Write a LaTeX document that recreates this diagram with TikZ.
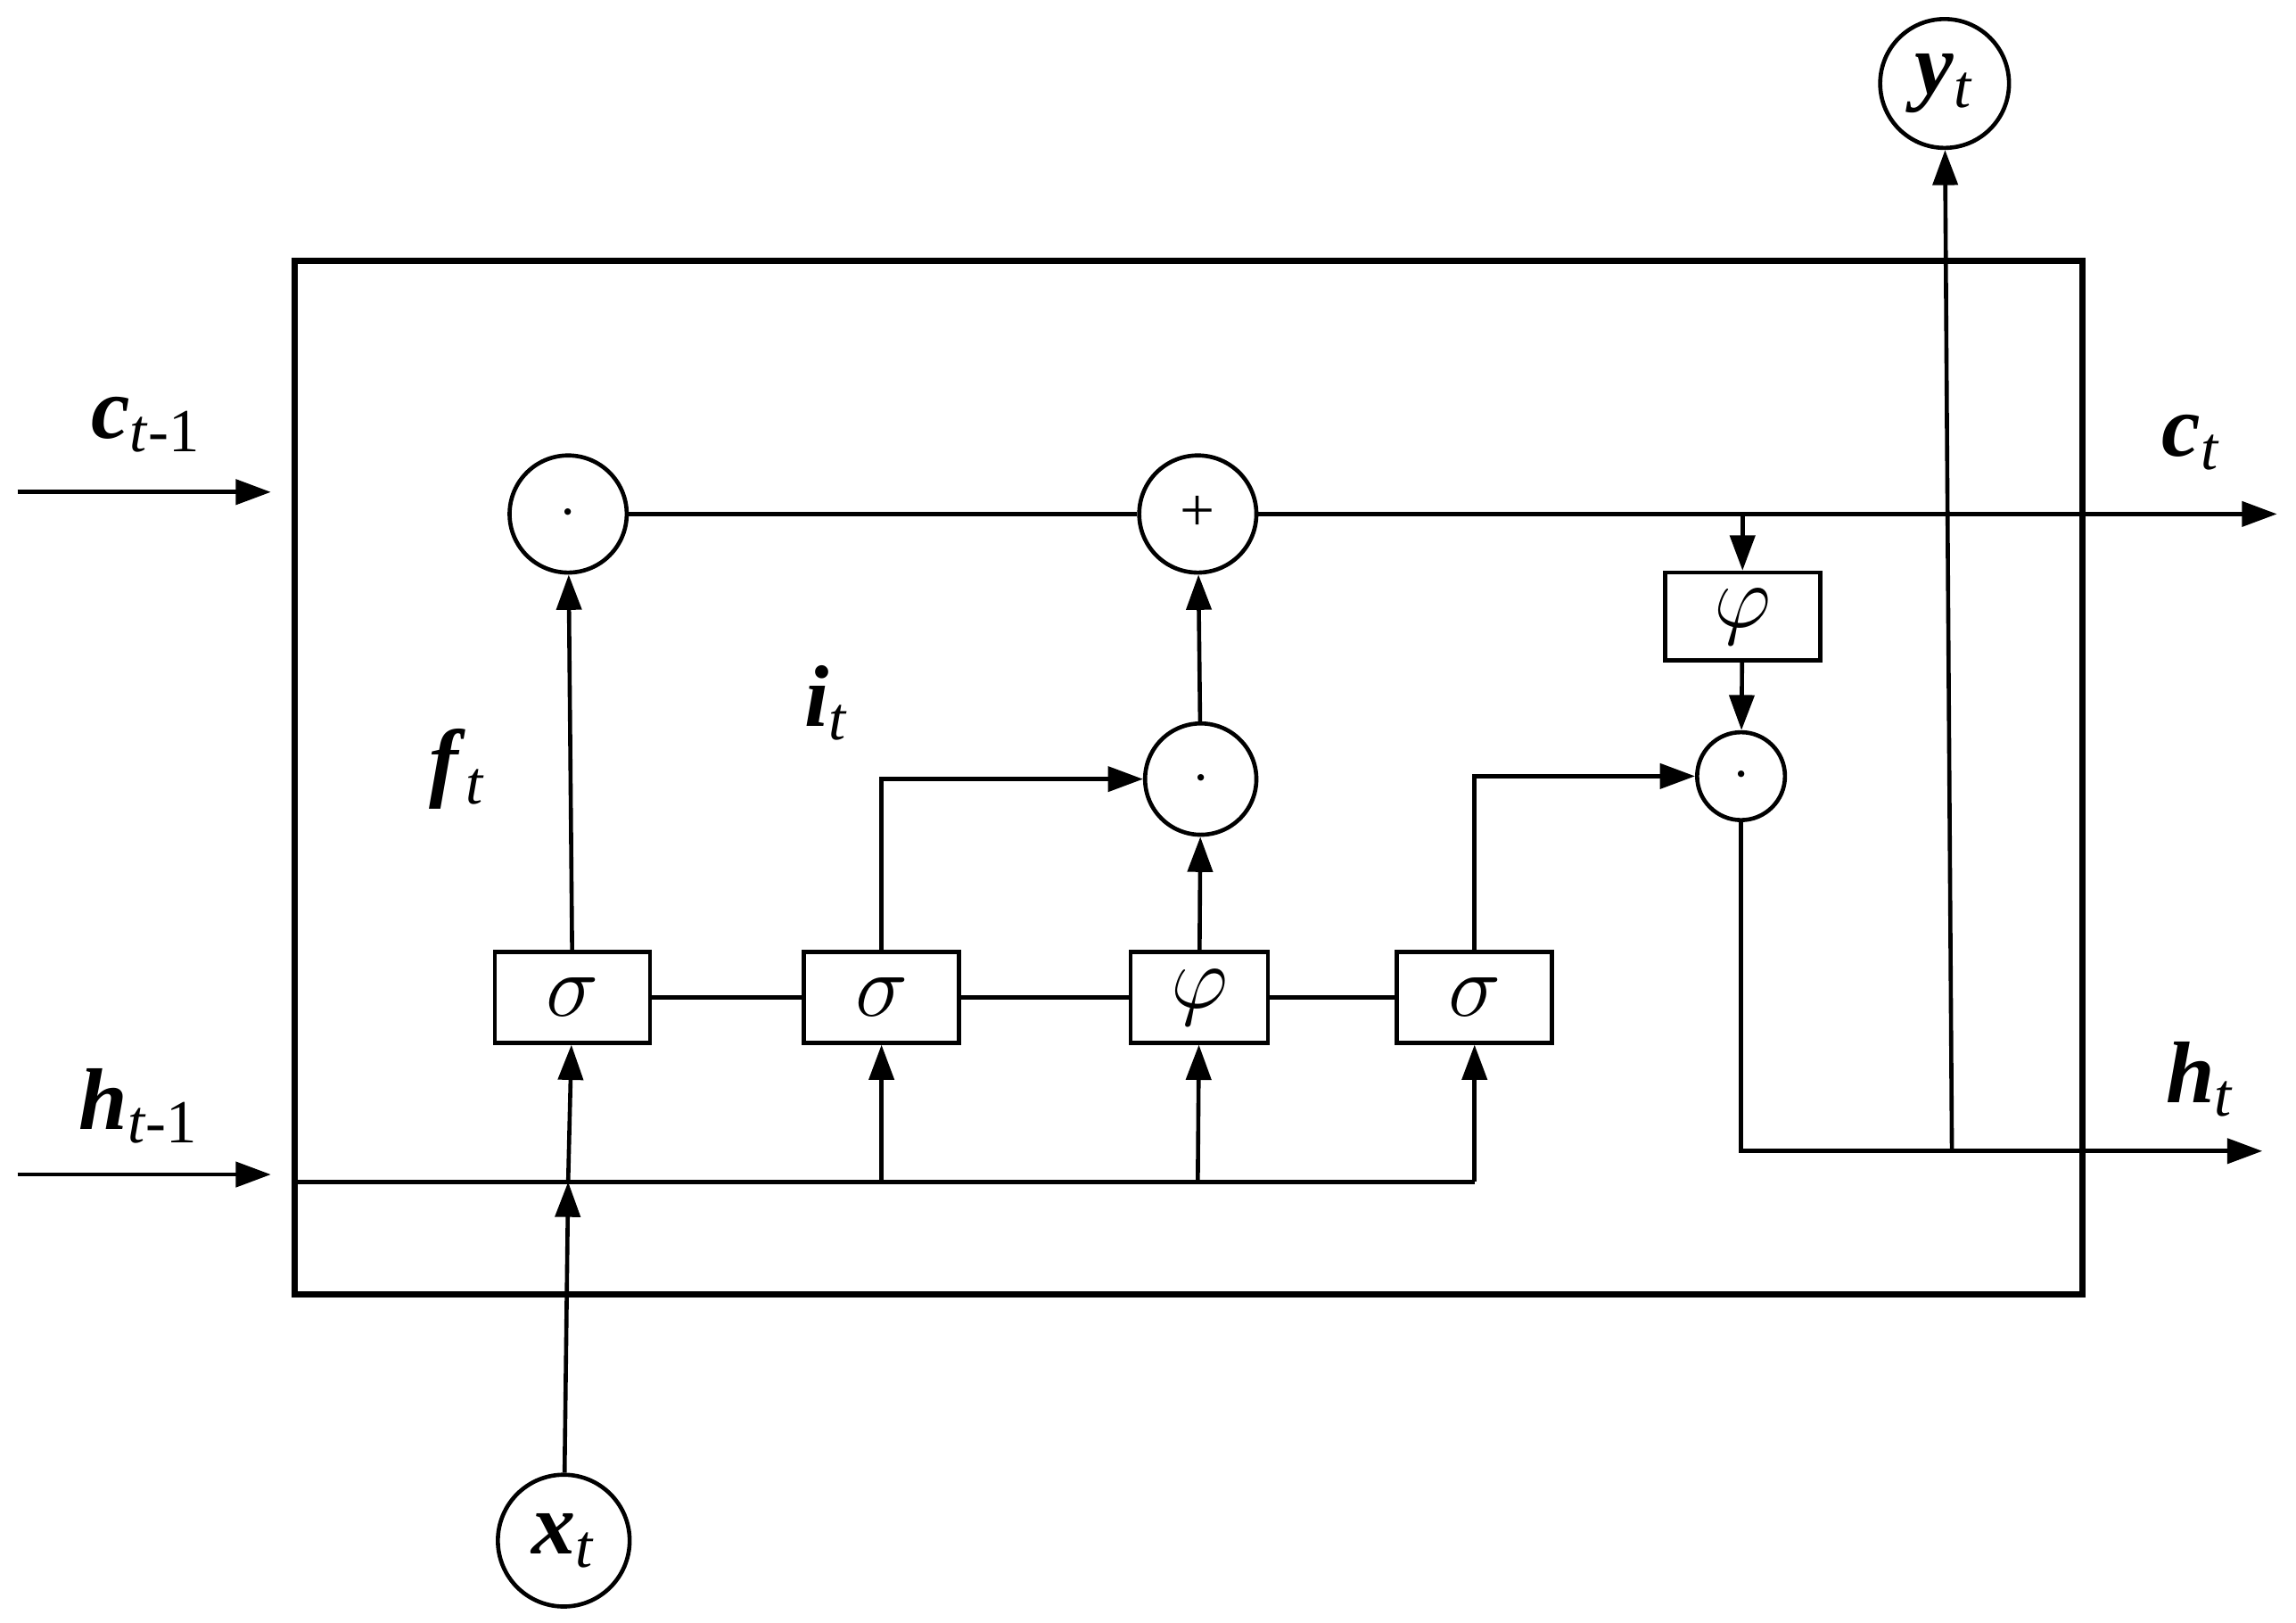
\documentclass[tikz,border=0pt]{standalone}
\usepackage{fontspec}
\setmainfont{Liberation Serif}
\usetikzlibrary{positioning, calc, arrows.meta}
\newcommand{\vb}[1]{\textbf{\textit{#1}}}
\begin{document}
\begin{tikzpicture}[
    >={Triangle[length=0.24cm, width=0.17cm]},
    every edge/.style={draw, thick},
    op/.style={draw, thick, circle, minimum size=0.80cm, inner sep=0pt, font=\fontsize{12}{12}\selectfont},
    io/.style={draw, thick, circle, minimum size=0.88cm, inner sep=0pt, font=\fontsize{17}{18}\selectfont},
    gate/.style={draw, thick, minimum width=1.06cm, minimum height=0.62cm, inner sep=0pt, font=\fontsize{18}{20}\selectfont},
    lbl/.style={font=\fontsize{17}{18}\selectfont}]

    \useasboundingbox (0,0) rectangle (15.68,11.08);
    \node[draw, very thick, minimum width=12.21cm, minimum height=7.06cm] (cell) at (8.115,5.77) {};

    %%% operations
    \node[op] (fmul) at (3.88,7.57) {$\cdot$};
    \node[op] (add) at (8.18,7.57) {+};
    \node[op, minimum size=0.76cm] (imul) at (8.20,5.76) {$\cdot$};
    \node[op, minimum size=0.60cm] (omul) at (11.89,5.78) {$\cdot$};
    \node[io] (yt) at (13.28,10.51) {\vb{y}\textsubscript{\textit{t}}};
    \node[io, minimum size=0.90cm] (xt) at (3.85,0.56) {\vb{x}\textsubscript{\textit{t}}};

    %%% gates
    \node[gate] (fg) at (3.91,4.27) {$\sigma$};
    \node[gate] (ig) at (6.02,4.27) {$\sigma$};
    \node[gate, minimum width=0.94cm] (cg) at (8.19,4.27) {$\varphi$};
    \node[gate] (og) at (10.07,4.27) {$\sigma$};
    \node[gate, minimum height=0.60cm] (tg) at (11.90,6.87) {$\varphi$};

    %%% coordinates
    \coordinate (cin) at (0.12,7.72);
    \coordinate (hin) at (0.12,3.06);
    \coordinate (hl) at (2.01,3.01);
    \coordinate (hf) at (3.88,3.01);
    \coordinate (hi) at (6.02,3.01);
    \coordinate (hc) at (8.18,3.01);
    \coordinate (ho) at (10.07,3.01);
    \coordinate (cout) at (15.55,7.57);
    \coordinate (cb) at (11.90,7.57);
    \coordinate (hb) at (11.89,3.22);
    \coordinate (hy) at (13.33,3.22);
    \coordinate (hout) at (15.45,3.22);

    %%% inputs and outputs
    \draw[thick, ->] (cin) -- (1.85,7.72);
    \draw[thick, ->] (hin) -- (1.85,3.06);
    \node[lbl] at (1.00,8.18) {\vb{c}\textsubscript{\textit{t}-1}};
    \node[lbl] at (0.95,3.53) {\vb{h}\textsubscript{\textit{t}-1}};
    \node[lbl] at (14.97,8.06) {\vb{c}\textsubscript{\textit{t}}};
    \node[lbl] at (15.03,3.71) {\vb{h}\textsubscript{\textit{t}}};
    \node[lbl] at (3.13,5.83) {\vb{f}\textsubscript{\textit{t}}};
    \node[lbl] at (5.65,6.28) {\vb{i}\textsubscript{\textit{t}}};

    %%% h line and taps
    \draw[thick] (hl) -- (ho);
    \path (xt) edge[->] (hf);
    \path (hf) edge[->] (fg);
    \path (hi) edge[->] (ig);
    \path (hc) edge[->] (cg);
    \path (ho) edge[->] (og);
    \draw[thick] (fg) -- (ig) -- (cg) -- (og);

    %%% gate outputs
    \path (fg) edge[->] (fmul);
    \draw[thick, ->] (ig.north) |- (imul.west);
    \path (cg) edge[->] (imul);
    \path (imul) edge[->] (add);
    \draw[thick, ->] (og.north) |- (omul.west);

    %%% cell state
    \draw[thick] (fmul) -- (add);
    \draw[thick, ->] (add) -- (cout);
    \draw[thick, ->] (cb) -- (tg);
    \path (tg) edge[->] (omul);
    \draw[thick, ->] (omul) -- (hb) -- (hout);
    \path (hy) edge[->] (yt);
\end{tikzpicture}
\end{document}
